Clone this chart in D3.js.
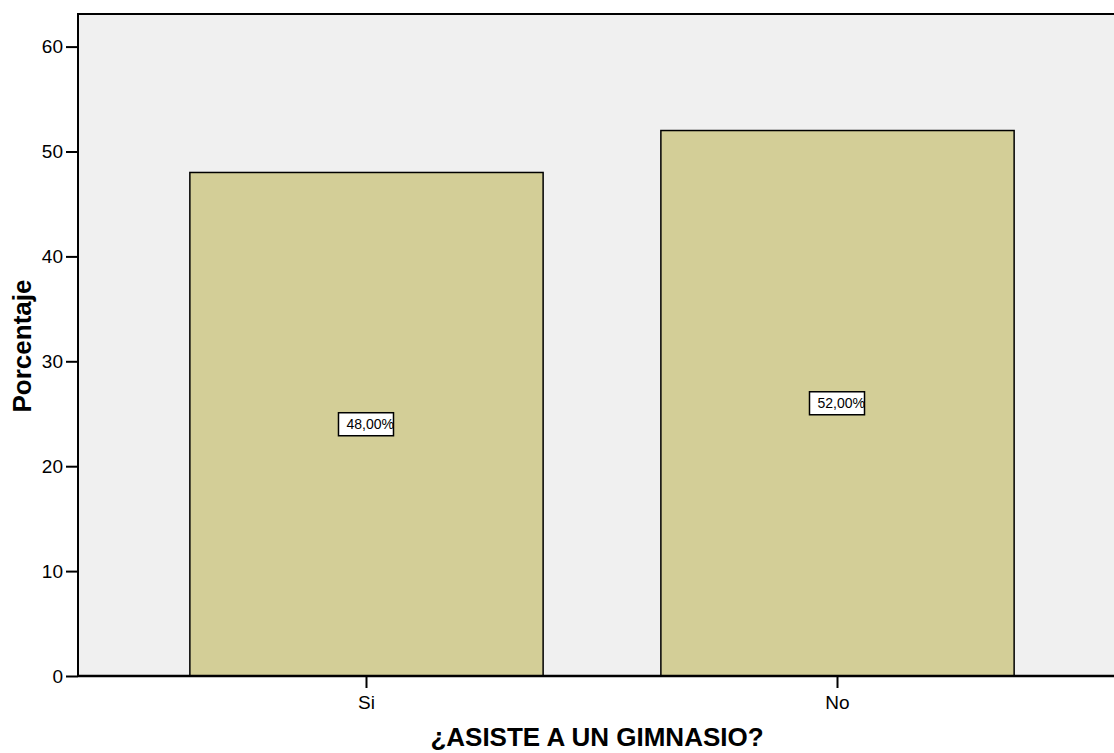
<!DOCTYPE html>
<html>
<head>
<meta charset="utf-8">
<script src="https://cdn.jsdelivr.net/npm/d3@7"></script>
<style>
  html, body { margin: 0; padding: 0; background: #fff; }
  svg { display: block; font-family: Arial, "Liberation Sans", sans-serif; }
</style>
</head>
<body>
<svg id="chart" width="1114" height="753"></svg>
<script>
// Respuestas y porcentajes
const categories = ["Si", "No"];
const percentages = [48, 52];
const valueLabels = ["48,00%", "52,00%"];
const yTicks = [0, 10, 20, 30, 40, 50, 60];

const svg = d3.select("#chart");
const plotLeft = 78, plotTop = 14, plotRight = 1126, plotBottom = 676;
const font = "Arial, 'Liberation Sans', sans-serif";

const x = d3.scaleBand()
  .domain(categories)
  .range([plotLeft, plotRight])
  .paddingInner(0.25)
  .paddingOuter(0.2375);

const y = d3.scaleLinear()
  .domain([0, 60])
  .range([plotBottom, plotBottom - 6 * 104.9]);

// Fondo del área de trazado
svg.append("rect")
  .attr("x", plotLeft).attr("y", plotTop)
  .attr("width", plotRight - plotLeft).attr("height", plotBottom - plotTop)
  .attr("fill", "#f0f0f0");

// Barras
svg.append("g").selectAll("rect")
  .data(categories)
  .join("rect")
  .attr("x", d => x(d))
  .attr("y", (d, i) => y(percentages[i]))
  .attr("width", x.bandwidth())
  .attr("height", (d, i) => y(0) - y(percentages[i]))
  .attr("fill", "#d3ce97")
  .attr("stroke", "#000")
  .attr("stroke-width", 1.5);

// Marco superior e izquierdo
svg.append("path")
  .attr("d", `M${plotLeft},${plotBottom}V${plotTop}H${plotRight}`)
  .attr("fill", "none")
  .attr("stroke", "#000")
  .attr("stroke-width", 2);

// Eje Y
const yAxis = svg.append("g")
  .attr("transform", `translate(${plotLeft},0)`)
  .attr("font-size", 19)
  .attr("font-family", font)
  .call(d3.axisLeft(y).tickValues(yTicks).tickSize(12).tickPadding(3).tickFormat(d3.format("d")));
yAxis.attr("font-size", 19).attr("font-family", font);
yAxis.select(".domain").remove();
yAxis.selectAll(".tick line").attr("stroke", "#000").attr("stroke-width", 2);
yAxis.selectAll(".tick text").attr("fill", "#000");

// Eje X
const xAxis = svg.append("g")
  .attr("transform", `translate(0,${plotBottom})`)
  .call(d3.axisBottom(x).tickSize(12).tickPadding(7.5));
xAxis.attr("font-size", 19).attr("font-family", font);
xAxis.select(".domain").remove();
xAxis.selectAll(".tick line").attr("stroke", "#000").attr("stroke-width", 2);
xAxis.selectAll(".tick text").attr("fill", "#000");

svg.append("line")
  .attr("x1", plotLeft).attr("x2", plotRight)
  .attr("y1", plotBottom).attr("y2", plotBottom)
  .attr("stroke", "#000").attr("stroke-width", 2.5);

// Etiquetas de valor dentro de las barras
const labels = svg.append("g").selectAll("g")
  .data(categories)
  .join("g")
  .attr("transform", (d, i) => `translate(${x(d) + x.bandwidth() / 2},${y(percentages[i] / 2)})`);
labels.append("rect")
  .attr("x", -28).attr("y", -11.5)
  .attr("width", 55).attr("height", 23)
  .attr("fill", "#fff").attr("stroke", "#000").attr("stroke-width", 1.5);
labels.append("text")
  .attr("x", -20)
  .attr("dy", "0.36em")
  .attr("font-size", 14)
  .attr("fill", "#000")
  .text((d, i) => valueLabels[i]);

// Títulos de ejes
svg.append("text")
  .attr("x", 597)
  .attr("y", 746)
  .attr("text-anchor", "middle")
  .attr("font-size", 26)
  .attr("font-weight", "bold")
  .text("¿ASISTE A UN GIMNASIO?");

svg.append("text")
  .attr("transform", "translate(31,346) rotate(-90)")
  .attr("text-anchor", "middle")
  .attr("font-size", 26)
  .attr("font-weight", "bold")
  .text("Porcentaje");
</script>
</body>
</html>
